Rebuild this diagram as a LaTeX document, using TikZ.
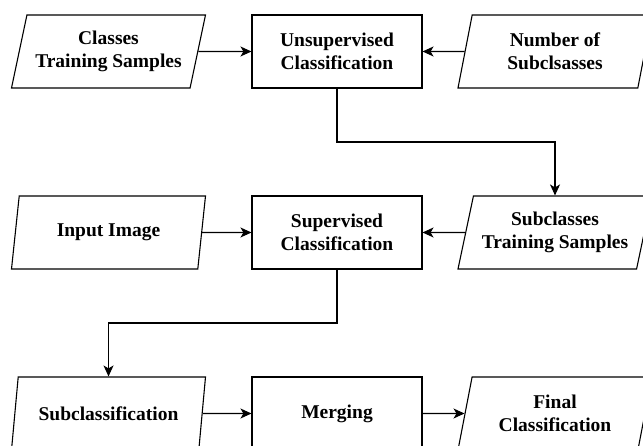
\documentclass[tikz,border=0pt]{standalone}
\usepackage{fontspec}
\setmainfont{Liberation Serif}
\usetikzlibrary{calc,arrows.meta,shapes.geometric}

\begin{document}
\begin{tikzpicture}[x = 1pt, y = -1pt, >={Stealth[length=11pt, width=10pt, inset=3pt]}, line width = 1.1pt,
		box/.style = {minimum height = 73pt, align = center, font = \fontsize{19.5}{23}\selectfont\bfseries},
		data/.style = {box, draw, trapezium, trapezium left angle = 72, trapezium right angle = 108, trapezium stretches body, minimum width = 194pt},
		proc/.style = {box, draw, rectangle, minimum width = 170pt}]
		\clip (0,0) rectangle (643,446);
		% top row
		\node[data] (cls) at (108.5,51.5) {Classes\\Training Samples};
		\node[proc] (unsup) at (337,51.5) {Unsupervised\\Classification};
		\node[data] (num) at (555,51.5) {Number of\\Subclsasses};
		% middle row
		\node[data] (img) at (108.5,232.5) {Input Image};
		\node[proc] (sup) at (337,232.5) {Supervised\\Classification};
		\node[data] (subtr) at (555,232.5) {Subclasses\\Training Samples};
		% bottom row
		\node[data] (subcls) at (108.5,413.5) {Subclassification};
		\node[proc] (merge) at (337,413.5) {Merging};
		\node[data] (final) at (555,413.5) {Final\\Classification};

		\draw [->] (cls) -- (unsup);
		\draw [->] (num) -- (unsup);
		\draw [->] (unsup.south) |- ($(unsup.south)!0.5!(subtr.north)$) -| (subtr.north);
		\draw [->] (img) -- (sup);
		\draw [->] (subtr) -- (sup);
		\draw [->] (sup.south) |- ($(sup.south)!0.5!(subcls.north)$) -| (subcls.north);
		\draw [->] (subcls) -- (merge);
		\draw [->] (merge) -- (final);
	\end{tikzpicture}
\end{document}
